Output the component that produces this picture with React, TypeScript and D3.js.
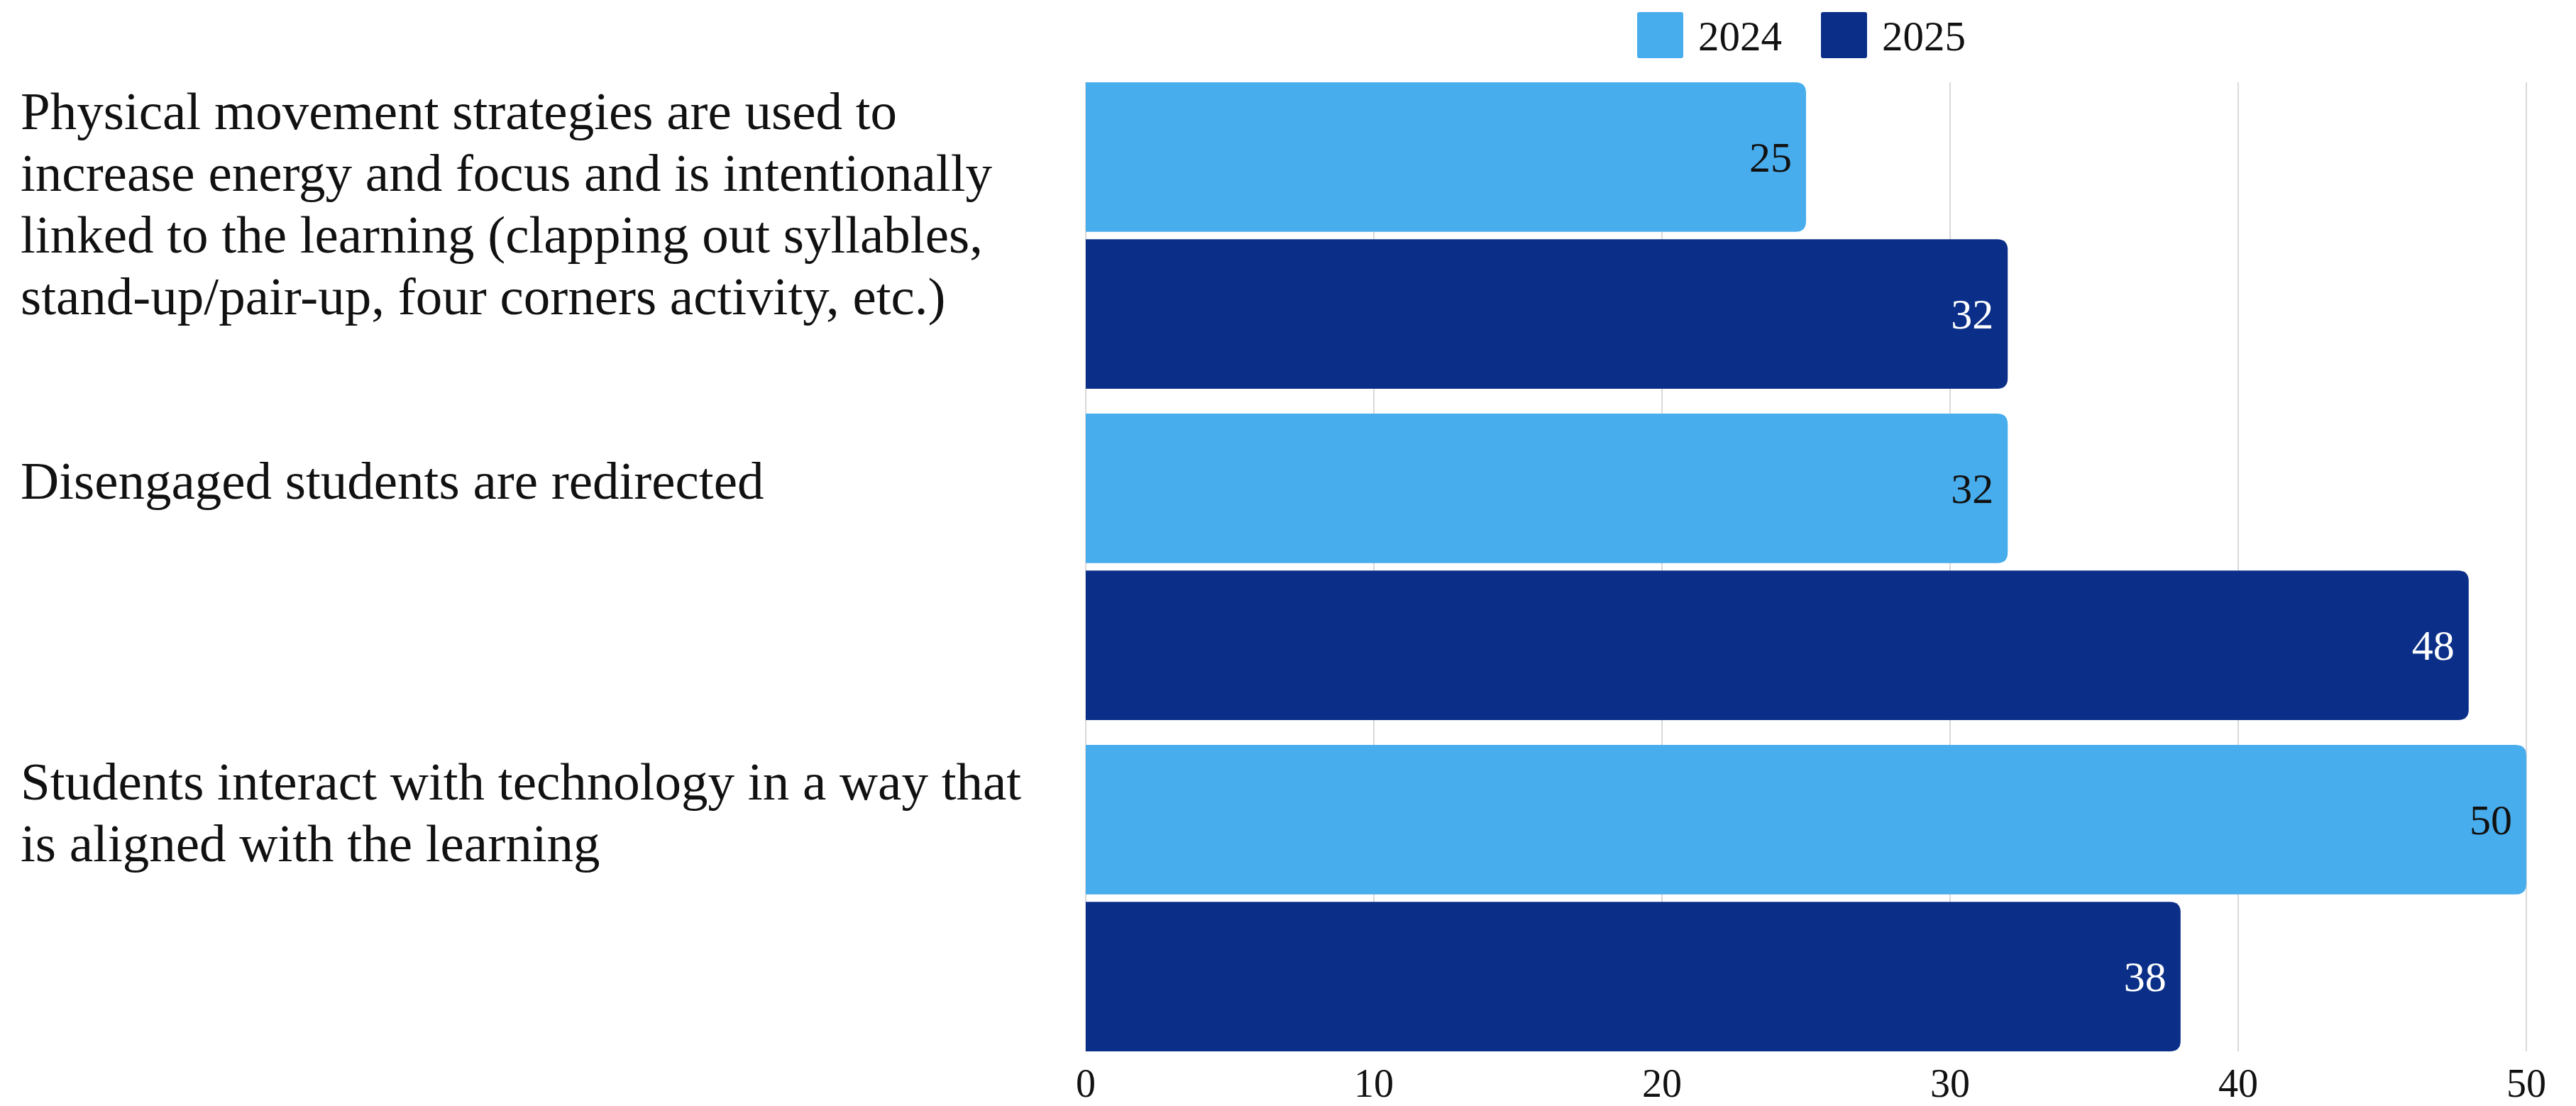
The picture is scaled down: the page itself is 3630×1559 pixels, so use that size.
import React from "react";
import * as d3 from "d3";

const categories: string[][] = [
  [
    "Physical movement strategies are used to",
    "increase energy and focus and is intentionally",
    "linked to the learning (clapping out syllables,",
    "stand-up/pair-up, four corners activity, etc.)",
  ],
  ["Disengaged students are redirected"],
  ["Students interact with technology in a way that", "is aligned with the learning"],
];
const seriesNames = ["2024", "2025"];
const values2024 = [25, 32, 50];
const values2025 = [32, 48, 38];
const xTicks = [0, 10, 20, 30, 40, 50];
const colors = ["#48ADEC", "#0B2F88"];
const labelColors = ["#111111", "#ffffff"];

const W = 3630;
const H = 1559;
const FONT = "'Liberation Serif', 'Times New Roman', serif";

function barPath(x0: number, x1: number, y0: number, h: number, r: number) {
  const rr = Math.min(r, (x1 - x0) / 2, h / 2);
  return `M${x0},${y0} H${x1 - rr} Q${x1},${y0} ${x1},${y0 + rr} V${y0 + h - rr} Q${x1},${y0 + h} ${x1 - rr},${y0 + h} H${x0} Z`;
}

export default function App() {
  const x = d3.scaleLinear().domain([0, 50]).range([1530, 3560]);
  const idx = categories.map((_, i) => String(i));
  const y0 = d3.scaleBand().domain(idx).range([116, 1482]).paddingInner(0.075).paddingOuter(0);
  const y1 = d3.scaleBand().domain(seriesNames).range([0, y0.bandwidth()]).paddingInner(0.047).paddingOuter(0);
  const series = [values2024, values2025];
  const lineH = 87;
  const capHalf = 24;

  return (
    <svg width={W} height={H} style={{ position: "absolute", left: 0, top: 0, background: "#fff" }} fontFamily={FONT}>
      <rect x={0} y={0} width={W} height={H} fill="#fff" />
      {xTicks.map((t) => (
        <line key={"g" + t} x1={x(t)} x2={x(t)} y1={116} y2={1482} stroke="#cccccc" strokeWidth={1.5} />
      ))}
      {idx.map((c, ci) =>
        seriesNames.map((s, si) => {
          const v = series[si][ci];
          const by = (y0(c) as number) + (y1(s) as number);
          const bh = y1.bandwidth();
          return (
            <g key={c + s}>
              <path d={barPath(x(0), x(v), by, bh, 15)} fill={colors[si]} />
              <text
                x={x(v) - 20}
                y={by + bh / 2}
                dy="0.34em"
                textAnchor="end"
                fontSize={60}
                fill={labelColors[si]}
              >
                {v}
              </text>
            </g>
          );
        })
      )}
      {idx.map((c, ci) => {
        const lines = categories[ci];
        const groupTop = y0(c) as number;
        const center = groupTop + (y1(seriesNames[0]) as number) + y1.bandwidth() / 2 - 9;
        let firstCap = center - ((lines.length - 1) * lineH) / 2;
        firstCap = Math.max(firstCap, groupTop + 42);
        return (
          <text key={"l" + c} x={29} fontSize={75} fill="#111">
            {lines.map((ln, li) => (
              <tspan key={li} x={29} y={firstCap + li * lineH + capHalf}>
                {ln}
              </tspan>
            ))}
          </text>
        );
      })}
      {xTicks.map((t) => (
        <text key={"t" + t} x={x(t)} y={1546} textAnchor="middle" fontSize={56} fill="#111">
          {t}
        </text>
      ))}
      {seriesNames.map((s, si) => {
        const lx = [2307, 2566][si];
        return (
          <g key={"lg" + s}>
            <rect x={lx} y={17} width={65} height={65} rx={3} fill={colors[si]} />
            <text x={lx + 86} y={71} fontSize={59} fill="#111">
              {s}
            </text>
          </g>
        );
      })}
    </svg>
  );
}
